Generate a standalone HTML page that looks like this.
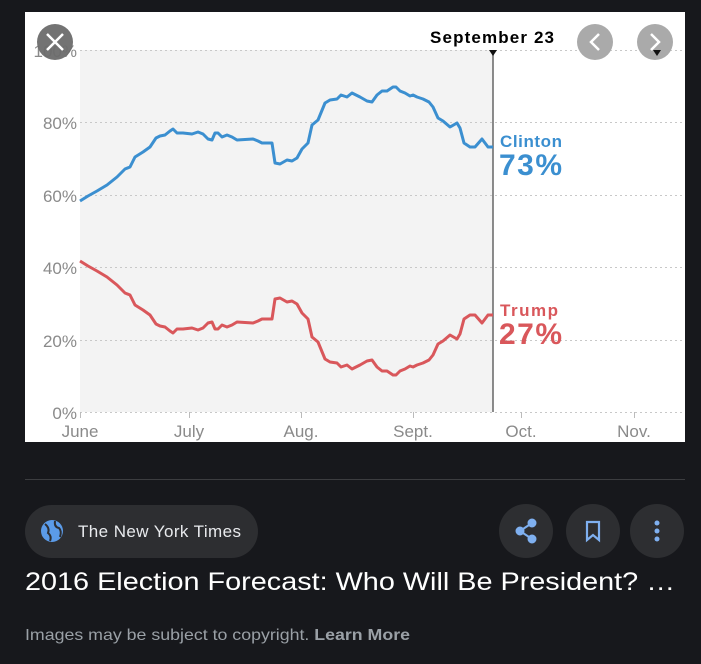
<!DOCTYPE html>
<html><head><meta charset="utf-8"><style>
html,body{margin:0;padding:0;background:#17181c;width:701px;height:664px;overflow:hidden;font-family:"Liberation Sans",sans-serif;}
svg{position:absolute;left:0;top:0}
</style></head><body>
<svg width="701" height="664" viewBox="0 0 701 664" xmlns="http://www.w3.org/2000/svg">
<rect x="25" y="12" width="660" height="430" fill="#fff"/>
<rect x="80" y="50" width="413" height="362" fill="#f3f3f3"/>
<g stroke="#c8c8c8" stroke-width="1" stroke-dasharray="2,3">
<line x1="80" y1="50.5" x2="684" y2="50.5"/>
<line x1="80" y1="122.5" x2="684" y2="122.5"/>
<line x1="80" y1="195.5" x2="684" y2="195.5"/>
<line x1="80" y1="267.5" x2="684" y2="267.5"/>
<line x1="80" y1="340.5" x2="684" y2="340.5"/>
<line x1="80" y1="412.5" x2="684" y2="412.5"/>
</g>
<g stroke="#bbb" stroke-width="1">
<line x1="80.5" y1="412" x2="80.5" y2="418"/><line x1="189.5" y1="412" x2="189.5" y2="418"/>
<line x1="301.5" y1="412" x2="301.5" y2="418"/><line x1="413.5" y1="412" x2="413.5" y2="418"/>
<line x1="521.5" y1="412" x2="521.5" y2="418"/><line x1="634.5" y1="412" x2="634.5" y2="418"/>
</g>
<g font-size="17" fill="#8a8a8a" text-anchor="end">
<text x="77" y="57">100%</text><text x="77" y="129">80%</text><text x="77" y="202">60%</text>
<text x="77" y="274">40%</text><text x="77" y="347">20%</text><text x="77" y="419">0%</text>
</g>
<g font-size="17" fill="#8a8a8a" text-anchor="middle">
<text x="80" y="437">June</text><text x="189" y="437">July</text><text x="301" y="437">Aug.</text>
<text x="413" y="437">Sept.</text><text x="521" y="437">Oct.</text><text x="634" y="437">Nov.</text>
</g>
<line x1="493" y1="50" x2="493" y2="412" stroke="#666" stroke-width="1.5"/>
<polygon points="489,50 497,50 493,56" fill="#111"/>
<path fill="none" stroke="#3b8fd0" stroke-width="3" stroke-linejoin="round" d="M80,201 L88,196 97,191 107,185 117,177 125,169 130,167 135,157 143,152 150,147 156,138 160,136 165,135 170,131 173,129 177,133 183,133 192,134 198,132 203,134 208,139 212,140 215,133 218,133 222,137 227,135 232,137 237,140 253,139 258,141 262,143 272,143 275,163 280,164 287,160 292,161 297,158 302,149 308,143 312,125 318,120 325,103 330,100 337,99 341,95 347,97 352,93 360,97 367,101 372,102 377,95 382,91 387,91 393,87 396,87 400,91 405,93 410,96 413,95 417,97 423,99 429,102 433,107 438,118 443,121 450,127 457,123 460,128 464,143 470,147 475,147 482,139 488,147 493,147"/>
<path transform="matrix(1,0,0,-1,0,462)" fill="none" stroke="#d9575b" stroke-width="3" stroke-linejoin="round" d="M80,201 L88,196 97,191 107,185 117,177 125,169 130,167 135,157 143,152 150,147 156,138 160,136 165,135 170,131 173,129 177,133 183,133 192,134 198,132 203,134 208,139 212,140 215,133 218,133 222,137 227,135 232,137 237,140 253,139 258,141 262,143 272,143 275,163 280,164 287,160 292,161 297,158 302,149 308,143 312,125 318,120 325,103 330,100 337,99 341,95 347,97 352,93 360,97 367,101 372,102 377,95 382,91 387,91 393,87 396,87 400,91 405,93 410,96 413,95 417,97 423,99 429,102 433,107 438,118 443,121 450,127 457,123 460,128 464,143 470,147 475,147 482,139 488,147 493,147"/>
<g font-weight="bold" fill="#3b8fd0"><text x="500" y="147" font-size="17" textLength="62">Clinton</text><text x="499" y="175" font-size="30" textLength="63">73%</text></g>
<g font-weight="bold" fill="#d9575b"><text x="500" y="316" font-size="17" textLength="58">Trump</text><text x="499" y="344" font-size="30" textLength="63">27%</text></g>
<text x="492" y="43" font-size="17" font-weight="bold" fill="#000" text-anchor="middle" textLength="124">September 23</text>
<circle cx="55" cy="42" r="18" fill="#6b6b6b" opacity="0.95"/>
<path d="M47,34 L63,50 M63,34 L47,50" stroke="#fff" stroke-width="2.5"/>
<circle cx="595" cy="42" r="18" fill="#aaa"/>
<path d="M599,34 L591,42 599,50" stroke="#fff" stroke-width="2.5" fill="none"/>
<circle cx="655" cy="42" r="18" fill="#aaa"/>
<path d="M651,34 L659,42 651,50" stroke="#fff" stroke-width="2.5" fill="none"/>
<polygon points="653,50 661,50 657,56" fill="#111"/>
<line x1="25" y1="479.5" x2="685" y2="479.5" stroke="#3c3d40" stroke-width="1"/>
<rect x="25" y="505" width="233" height="53" rx="26.5" fill="#2d2e31"/>
<circle cx="52" cy="531" r="11" fill="#5b9be8"/>
<path d="M45,524 Q50,528 48,533 Q52,536 50,541 M55,521 Q54,527 59,528 Q62,531 60,537" stroke="#2d2e31" stroke-width="2" fill="none"/>
<text x="78" y="537" font-size="17" fill="#e8eaed" textLength="163">The New York Times</text>
<circle cx="526" cy="531" r="27" fill="#2d2e31"/>
<circle cx="593" cy="531" r="27" fill="#2d2e31"/>
<circle cx="657" cy="531" r="27" fill="#2d2e31"/>
<g fill="#7fb0f0" stroke="#7fb0f0" stroke-width="2">
<line x1="532" y1="523" x2="520" y2="531"/><line x1="520" y1="531" x2="532" y2="539"/>
<circle cx="532" cy="523" r="3.5"/><circle cx="520" cy="531" r="3.5"/><circle cx="532" cy="539" r="3.5"/>
</g>
<path d="M587,522 L599,522 599,540 593,535 587,540 Z" fill="none" stroke="#7fb0f0" stroke-width="2.2"/>
<g fill="#7fb0f0"><circle cx="657" cy="523" r="2.5"/><circle cx="657" cy="531" r="2.5"/><circle cx="657" cy="539" r="2.5"/></g>
<text x="25" y="590" font-size="25" fill="#fff" textLength="650" lengthAdjust="spacingAndGlyphs">2016 Election Forecast: Who Will Be President? …</text>
<text x="25" y="640" font-size="16" fill="#9aa0a6" textLength="385" lengthAdjust="spacingAndGlyphs">Images may be subject to copyright. <tspan font-weight="bold">Learn More</tspan></text>
</svg>
</body></html>
